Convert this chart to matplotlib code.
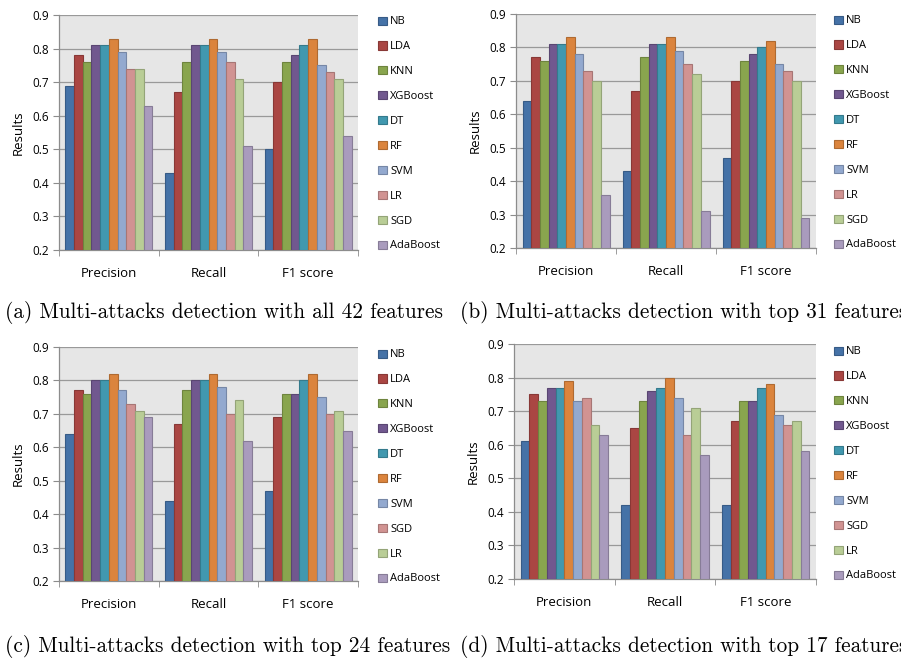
import matplotlib
matplotlib.use("Agg")
import matplotlib.pyplot as plt
import numpy as np
from matplotlib.patches import Patch
from matplotlib.colors import to_rgb

# metric groups on the x axis
metrics = ["Precision", "Recall", "F1 score"]

# legend order differs between the upper and lower panels
models_top = ["NB", "LDA", "KNN", "XGBoost", "DT", "RF", "SVM", "LR", "SGD", "AdaBoost"]
models_bottom = ["NB", "LDA", "KNN", "XGBoost", "DT", "RF", "SVM", "SGD", "LR", "AdaBoost"]

# rows = model (in legend order), columns = Precision, Recall, F1 score
scores_all42 = [
    [0.69, 0.43, 0.50],
    [0.78, 0.67, 0.70],
    [0.76, 0.76, 0.76],
    [0.81, 0.81, 0.78],
    [0.81, 0.81, 0.81],
    [0.83, 0.83, 0.83],
    [0.79, 0.79, 0.75],
    [0.74, 0.76, 0.73],
    [0.74, 0.71, 0.71],
    [0.63, 0.51, 0.54],
]
scores_top31 = [
    [0.64, 0.43, 0.47],
    [0.77, 0.67, 0.70],
    [0.76, 0.77, 0.76],
    [0.81, 0.81, 0.78],
    [0.81, 0.81, 0.80],
    [0.83, 0.83, 0.82],
    [0.78, 0.79, 0.75],
    [0.73, 0.75, 0.73],
    [0.70, 0.72, 0.70],
    [0.36, 0.31, 0.29],
]
scores_top24 = [
    [0.64, 0.44, 0.47],
    [0.77, 0.67, 0.69],
    [0.76, 0.77, 0.76],
    [0.80, 0.80, 0.76],
    [0.80, 0.80, 0.80],
    [0.82, 0.82, 0.82],
    [0.77, 0.78, 0.75],
    [0.73, 0.70, 0.70],
    [0.71, 0.74, 0.71],
    [0.69, 0.62, 0.65],
]
scores_top17 = [
    [0.61, 0.42, 0.42],
    [0.75, 0.65, 0.67],
    [0.73, 0.73, 0.73],
    [0.77, 0.76, 0.73],
    [0.77, 0.77, 0.77],
    [0.79, 0.80, 0.78],
    [0.73, 0.74, 0.69],
    [0.74, 0.63, 0.66],
    [0.66, 0.71, 0.67],
    [0.63, 0.57, 0.58],
]

captions = [
    "(a) Multi-attacks detection with all 42 features",
    "(b) Multi-attacks detection with top 31 features",
    "(c) Multi-attacks detection with top 24 features",
    "(d) Multi-attacks detection with top 17 features",
]

# Excel 2007 default palette, by bar position
colors = ["#4572A7", "#AA4643", "#89A54E", "#71588F", "#4198AF",
          "#DB843D", "#93A9CF", "#D19392", "#B9CD96", "#A99BBD"]


def darker(c, f=0.8):
    r, g, b = to_rgb(c)
    return (r * f, g * f, b * f)


W, H = 901, 660
fig = plt.figure(figsize=(W / 100, H / 100), dpi=100)
fig.patch.set_facecolor("white")

# (left, right, top, bottom) in pixels, legend (x, top y)
panels = [
    ((59, 358, 15, 250), (374, 12), scores_all42, models_top),
    ((516, 816, 14, 248), (830, 11), scores_top31, models_top),
    ((59, 358, 347, 581), (374, 345), scores_top24, models_bottom),
    ((514, 816, 344, 579), (830, 342), scores_top17, models_bottom),
]
caption_pos = [(5, 313), (460, 313), (5, 647), (460, 647)]

tick_font = "Open Sans"

for (box, leg, data, models), cap, cpos in zip(panels, captions, caption_pos):
    l, r, t, b = box
    ax = fig.add_axes([l / W, 1 - b / H, (r - l) / W, (b - t) / H])
    ax.set_facecolor("#E6E6E6")
    vals = np.array(data)
    n = len(models)
    x = np.arange(len(metrics))
    width = 0.087
    for i in range(n):
        offs = (i - (n - 1) / 2) * width
        ax.bar(x + offs, vals[i] - 0.2, width, bottom=0.2, color=colors[i],
               edgecolor=darker(colors[i]), linewidth=0.8, zorder=3)
    ax.set_xlim(-0.5, len(metrics) - 0.5)
    ax.set_ylim(0.2, 0.9)
    ax.set_yticks(np.arange(0.2, 0.91, 0.1))
    ax.set_yticklabels([f"{v:.1f}" for v in np.arange(0.2, 0.91, 0.1)],
                       fontsize=8.5, family=tick_font)
    ax.yaxis.grid(True, color="#999999", linewidth=0.9, zorder=1)
    ax.set_axisbelow(True)
    ax.set_xticks(x)
    ax.set_xticklabels(metrics, fontsize=9.5, family=tick_font)
    ax.set_xticks(np.arange(-0.5, len(metrics)), minor=True)
    ax.tick_params(axis="x", which="major", length=0, pad=12)
    ax.tick_params(axis="x", which="minor", length=4, color="#8C8C8C")
    ax.tick_params(axis="y", length=4, color="#8C8C8C", pad=3)
    for s in ["top", "right"]:
        ax.spines[s].set_visible(False)
    for s in ["left", "bottom"]:
        ax.spines[s].set_color("#8C8C8C")
        ax.spines[s].set_linewidth(0.9)
    ax.set_ylabel("Results", fontsize=9.5, family=tick_font, labelpad=6)

    handles = [Patch(facecolor=colors[i], edgecolor=darker(colors[i]), linewidth=0.8)
               for i in range(n)]
    fig.legend(handles, models, loc="upper left",
               bbox_to_anchor=(leg[0] / W, 1 - leg[1] / H),
               frameon=False, prop={"family": tick_font, "size": 8},
               handlelength=0.75, handleheight=0.75, handletextpad=0.3,
               labelspacing=1.25, borderaxespad=0)

    fig.text(cpos[0] / W, 1 - cpos[1] / H, cap, family="cmr10", fontsize=15.3,
             va="center", ha="left")

fig.savefig("out.png", dpi=100)
